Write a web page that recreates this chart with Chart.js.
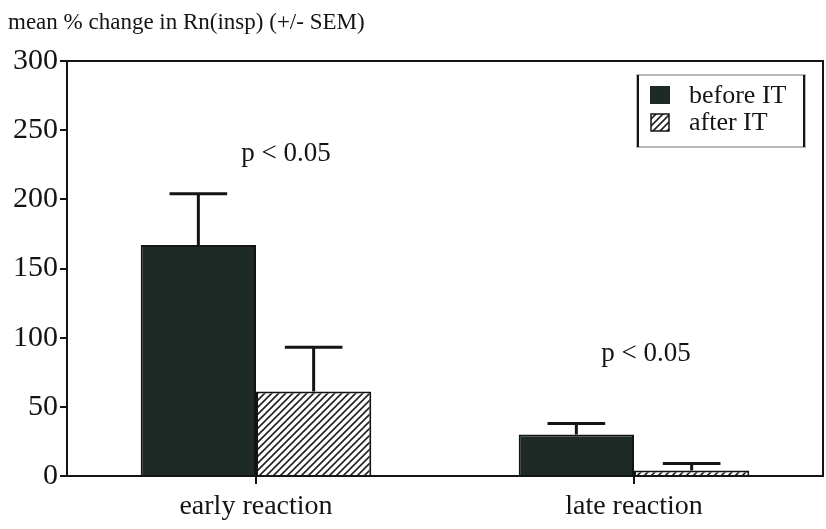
<!DOCTYPE html>
<html>
<head>
<meta charset="utf-8">
<script src="https://cdn.jsdelivr.net/npm/chart.js@4.4.1/dist/chart.umd.min.js"></script>
<style>
  body { margin: 0; background: #fff; }
  canvas { display: block; }
</style>
</head>
<body>
<canvas id="myChart" width="826" height="529"></canvas>
<script>
// data
const categories = ["early reaction", "late reaction"];
const seriesNames = ["before IT", "after IT"];
const beforeIT = [167, 30];
const afterIT = [61, 4];
const beforeSEM = [37, 8];
const afterSEM = [32, 5];
const pLabels = ["p < 0.05", "p < 0.05"];
const yTicks = [0, 50, 100, 150, 200, 250, 300];

const ink = "#141414";
const serif = "'Liberation Serif', 'Times New Roman', serif";

// diagonal hatch for the "after" bars
function makeHatch() {
  const s = 7;
  const c = document.createElement("canvas");
  c.width = s; c.height = s;
  const g = c.getContext("2d");
  g.fillStyle = "#fff";
  g.fillRect(0, 0, s, s);
  g.strokeStyle = "#222";
  g.lineWidth = 1.6;
  g.beginPath();
  g.moveTo(-1, s + 1); g.lineTo(s + 1, -1);
  g.moveTo(-1, 1); g.lineTo(1, -1);
  g.moveTo(s - 1, s + 1); g.lineTo(s + 1, s - 1);
  g.stroke();
  return g.createPattern(c, "repeat");
}

window.onload = () => {
  const ctx = document.getElementById("myChart").getContext("2d");
  const hatch = makeHatch();
  const sems = [beforeSEM, afterSEM];

  // title, frame, error bars, p labels, legend
  const extras = {
    id: "extras",
    afterDatasetsDraw(chart) {
      const c = chart.ctx;
      const a = chart.chartArea;
      const y = chart.scales.y;
      const x = chart.scales.x;

      c.save();
      // top + right frame lines
      c.strokeStyle = ink;
      c.lineWidth = 2;
      c.beginPath();
      c.moveTo(a.left, a.top);
      c.lineTo(a.right, a.top);
      c.lineTo(a.right, a.bottom);
      c.stroke();

      // error bars (upper half only)
      c.lineWidth = 3;
      chart.data.datasets.forEach((ds, i) => {
        const meta = chart.getDatasetMeta(i);
        meta.data.forEach((bar, j) => {
          const top = y.getPixelForValue(ds.data[j]);
          const end = y.getPixelForValue(ds.data[j] + sems[i][j]);
          const half = bar.width / 4;
          c.beginPath();
          c.moveTo(bar.x, top);
          c.lineTo(bar.x, end);
          c.moveTo(bar.x - half, end);
          c.lineTo(bar.x + half, end);
          c.stroke();
        });
      });

      // significance labels
      c.fillStyle = ink;
      c.font = "27px " + serif;
      c.textAlign = "center";
      c.textBaseline = "middle";
      const pAt = [{ dx: 30, v: 233 }, { dx: 12, v: 88 }];
      pLabels.forEach((t, i) => {
        c.fillText(t, x.getPixelForValue(i) + pAt[i].dx, y.getPixelForValue(pAt[i].v));
      });

      // title
      c.font = "23px " + serif;
      c.textAlign = "left";
      c.fillText("mean % change in Rn(insp) (+/- SEM)", 8, 23);

      // legend box
      c.strokeStyle = "#b8b8b8";
      c.lineWidth = 2;
      c.strokeRect(637, 75, 168, 72);
      c.strokeStyle = ink;
      c.beginPath();
      c.moveTo(638, 75); c.lineTo(638, 147);
      c.moveTo(804, 75); c.lineTo(804, 147);
      c.stroke();

      c.fillStyle = "#1e2a26";
      c.fillRect(650, 86, 20, 18);
      c.fillStyle = hatch;
      c.fillRect(651, 114, 18, 17);
      c.lineWidth = 1.5;
      c.strokeRect(651, 114, 18, 17);

      c.fillStyle = ink;
      c.font = "26px " + serif;
      c.fillText(seriesNames[0], 689, 96);
      c.fillText(seriesNames[1], 689, 123);
      c.restore();
    }
  };

  new Chart(ctx, {
    type: "bar",
    data: {
      labels: categories,
      datasets: [
        {
          label: seriesNames[0],
          data: beforeIT,
          backgroundColor: "#1e2a26",
          borderColor: ink,
          borderWidth: 2,
          categoryPercentage: 0.61,
          barPercentage: 1.0
        },
        {
          label: seriesNames[1],
          data: afterIT,
          backgroundColor: hatch,
          borderColor: ink,
          borderWidth: 2,
          categoryPercentage: 0.61,
          barPercentage: 1.0
        }
      ]
    },
    options: {
      responsive: false,
      animation: false,
      layout: { padding: { top: 61, right: 3, left: 0, bottom: 0 } },
      plugins: {
        legend: { display: false },
        tooltip: { enabled: false }
      },
      scales: {
        x: {
          grid: {
            drawOnChartArea: false,
            offset: false,
            tickLength: 8,
            color: ink,
            lineWidth: 2
          },
          border: { color: ink, width: 2 },
          ticks: { color: ink, font: { family: serif, size: 28 }, padding: 6 },
          afterFit: (s) => { s.height = 53; }
        },
        y: {
          min: 0,
          max: 300,
          grid: {
            drawOnChartArea: false,
            tickLength: 7,
            color: ink,
            lineWidth: 2
          },
          border: { color: ink, width: 2 },
          ticks: {
            stepSize: 25,
            color: ink,
            font: { family: serif, size: 30 },
            padding: 2,
            callback: (v) => (yTicks.includes(v) ? v : "")
          },
          afterFit: (s) => { s.width = 67; }
        }
      }
    },
    plugins: [extras]
  });
};
</script>
</body>
</html>
